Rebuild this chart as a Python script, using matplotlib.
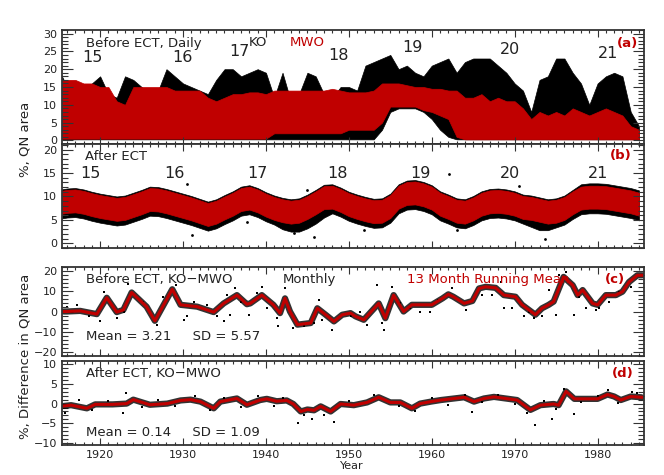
import numpy as np
import matplotlib
matplotlib.use('Agg')
import matplotlib.pyplot as plt
from matplotlib.ticker import MultipleLocator

# ---------------- data ----------------
years = list(range(1915, 1986))

# Panel (a) Before ECT, daily: envelope of the daily clouds (per year)
ko_a_hi = [20, 15, 14, 13, 16, 18, 13, 12, 18, 17, 15, 13, 14, 20, 18, 16, 15, 14, 13, 17,
           20, 20, 18, 19, 20, 19, 12, 19, 11, 13, 19, 18, 13, 12, 15, 15, 14, 21, 22, 23,
           24, 20, 21, 19, 18, 21, 22, 23, 19, 22, 23, 23, 23, 21, 19, 16, 14, 8, 17, 18,
           23, 23, 19, 16, 10, 16, 18, 19, 18, 8, 4]
ko_a_lo = [0.3] * 39 + [3, 8, 9, 9, 9, 8, 6, 3, 1] + [0.3] * 23
mwo_a_hi = [17, 17, 17, 16, 16, 15, 15, 11, 10, 15, 15, 15, 15, 15, 14, 14, 14, 14, 12, 11,
            12, 13, 13, 13.5, 13.5, 13, 14, 14, 14, 14, 14, 14, 14, 14.5, 14, 13.5, 13.5, 13.5,
            14, 16, 16, 16, 15.5, 15, 15, 14.5, 14.5, 14, 14, 12, 12, 13, 11, 12, 11, 11, 9,
            6, 8, 7, 8, 7, 9, 8, 7, 8, 9, 8, 7, 4, 3]
mwo_a_lo = [0.5] * 26 + [2] * 9 + [3, 3, 3, 3, 5, 9.5, 9.5, 9.5, 9.5, 8.5, 8, 7, 6, 1] + [0.3] * 22

# Panel (b) After ECT, daily: envelope of the daily clouds (per year)
mwo_b_hi = [11.1, 11.4, 11.5, 11.2, 10.7, 10.3, 10.0, 9.7, 9.9, 10.5, 11.1, 11.8, 11.7, 11.3,
            10.8, 10.3, 9.8, 9.2, 8.6, 9.1, 10.0, 10.8, 11.8, 12.1, 11.5, 10.6, 9.9, 9.4, 9.1,
            9.3, 10.1, 11.1, 12.2, 12.3, 11.6, 10.7, 10.1, 9.6, 9.2, 9.3, 10.3, 12.3, 13.1, 13.2,
            12.8, 12.1, 10.8, 10.1, 9.3, 9.1, 9.8, 10.8, 11.3, 11.4, 11.2, 10.8, 10.1, 9.9, 9.5,
            9.1, 9.3, 9.9, 11.1, 12.1, 12.3, 12.3, 12.2, 11.9, 11.6, 11.3, 10.8]
mwo_b_lo = [6.2, 6.5, 6.6, 6.3, 5.8, 5.4, 5.1, 4.8, 5.0, 5.6, 6.2, 6.9, 6.8, 6.4, 5.9, 5.4,
            4.9, 4.3, 3.7, 4.2, 5.1, 5.9, 6.9, 7.2, 6.6, 5.7, 5.0, 4.5, 4.2, 4.4, 5.2, 6.2, 7.3,
            7.4, 6.7, 5.8, 5.2, 4.7, 4.3, 4.4, 5.4, 7.4, 8.2, 8.3, 7.9, 7.2, 5.9, 5.2, 4.4, 4.2,
            4.9, 5.9, 6.4, 6.5, 6.3, 5.9, 5.2, 5.0, 4.6, 4.2, 4.4, 5.0, 6.2, 7.2, 7.4, 7.4, 7.3,
            7.0, 6.7, 6.4, 5.9]
ko_b_hi = [11.4, 11.7, 11.8, 11.5, 11.0, 10.6, 10.3, 10.0, 10.2, 10.8, 11.4, 12.1, 12.0, 11.6,
           11.1, 10.6, 10.1, 9.5, 8.9, 9.4, 10.3, 11.1, 12.1, 12.4, 11.8, 10.9, 10.2, 9.7, 9.4,
           9.6, 10.4, 11.4, 12.5, 12.6, 11.9, 11.0, 10.4, 9.9, 9.5, 9.6, 10.6, 12.6, 13.4, 13.5,
           13.1, 12.4, 11.1, 10.4, 9.6, 9.4, 10.1, 11.1, 11.6, 11.7, 11.5, 11.1, 10.4, 10.2, 9.8,
           9.4, 9.6, 10.2, 11.4, 12.6, 12.8, 12.8, 12.7, 12.4, 12.1, 11.8, 11.3]
ko_b_lo = [5.2, 5.5, 5.6, 5.3, 4.8, 4.4, 4.1, 3.8, 4.0, 4.6, 5.2, 5.9, 5.8, 5.4, 4.9, 4.4,
           3.9, 3.3, 2.7, 3.2, 4.1, 4.9, 5.9, 6.2, 5.6, 4.7, 4.0, 3.0, 2.5, 2.5, 3.2, 4.2, 5.5,
           6.4, 5.7, 4.8, 4.2, 3.7, 3.3, 3.4, 4.4, 6.4, 7.2, 7.3, 6.9, 6.2, 4.9, 4.2, 3.4, 3.2,
           3.9, 4.9, 5.4, 5.5, 5.3, 4.9, 4.2, 3.5, 2.8, 2.8, 3.4, 4.0, 5.2, 6.2, 6.4, 6.4, 6.3,
           6.0, 5.7, 5.4, 4.9]
ko_b_out_yr = [1931.1, 1937.7, 1930.5, 1945.0, 1943.4, 1945.8, 1962.1, 1970.5, 1973.7, 1963.1, 1951.8]
ko_b_out_val = [1.7, 4.5, 12.7, 11.3, 2.1, 1.3, 14.8, 12.3, 1.0, 2.8, 2.8]

# Panel (c) Before ECT, KO-MWO: 13-month running mean and monthly points
c_rm_yr = [1915.6, 1916.0, 1917.6, 1919.6, 1920.8, 1922.0, 1922.8, 1923.8, 1925.6, 1926.6,
           1928.7, 1929.7, 1931.7, 1933.7, 1934.9, 1936.5, 1937.7, 1938.1, 1939.5, 1940.9,
           1941.7, 1942.3, 1942.9, 1943.8, 1945.4, 1946.2, 1947.2, 1948.2, 1949.2, 1950.2,
           1950.8, 1951.8, 1953.6, 1954.4, 1955.4, 1956.6, 1957.6, 1959.0, 1960.0, 1961.3,
           1962.0, 1962.6, 1963.9, 1964.9, 1965.7, 1966.5, 1967.7, 1968.7, 1970.1, 1970.9,
           1972.5, 1973.3, 1974.1, 1974.7, 1975.9, 1977.0, 1977.6, 1978.2, 1979.4, 1980.0,
           1981.0, 1982.2, 1983.0, 1983.8, 1984.8, 1985.4]
c_rm_val = [0.0, 0.0, 0.3, -1.3, 6.8, -0.3, 0.8, 9.4, 2.4, -4.6,
            11.0, 3.3, 2.4, -0.3, 4.0, 8.1, 3.6, 4.0, 8.1, 3.3,
            -0.8, 6.5, 0.0, -6.5, -5.7, 1.6, -1.6, -4.9, -1.6, -0.8,
            -2.4, -4.1, 4.0, -3.3, 8.1, 0.0, 3.3, 3.3, 3.3, 6.5,
            8.5, 7.3, 4.0, 5.2, 11.4, 12.2, 11.7, 8.1, 7.3, 3.3,
            -1.6, 1.6, 3.3, 4.9, 17.1, 13.0, 8.1, 10.6, 4.0, 3.3,
            8.1, 8.1, 9.8, 14.6, 17.9, 17.9]
c_pt_yr = [1920.5, 1920.0, 1923.4, 1926.8, 1929.1, 1930.1, 1934.9, 1936.3, 1939.5, 1941.5,
           1942.3, 1943.3, 1946.4, 1948.0, 1953.4, 1954.2, 1955.2, 1971.1, 1973.3, 1974.1,
           1976.2, 1977.2, 1979.8, 1968.7, 1916.0, 1917.2, 1918.6, 1922.0, 1922.9, 1925.2,
           1926.0, 1927.6, 1930.5, 1931.3, 1932.9, 1934.1, 1935.3, 1935.7, 1937.0, 1938.0,
           1938.9, 1940.1, 1941.3, 1944.6, 1945.8, 1946.8, 1949.0, 1950.2, 1951.4, 1952.2,
           1954.0, 1956.2, 1957.4, 1958.6, 1959.8, 1960.7, 1961.9, 1962.5, 1964.1, 1966.1,
           1967.3, 1968.3, 1969.7, 1971.7, 1972.3, 1975.0, 1975.4, 1977.8, 1978.6, 1980.2,
           1981.4, 1982.6, 1984.0]
c_pt_val = [9.4, -4.9, 13.8, -6.5, 13.0, -4.1, -4.9, 11.4, 12.2, -7.3,
            11.4, -8.1, 5.7, -8.9, 13.0, -8.9, 12.2, -2.4, -2.4, 10.6,
            19.5, -1.6, 0.8, 1.6, 2.4, 3.3, -2.4, -3.3, 0.0, 4.9,
            0.0, 7.3, -2.4, 4.9, 3.3, -2.4, 8.1, -1.6, 4.9, -1.6,
            8.9, 1.6, -3.3, -7.3, -5.7, -4.1, -2.4, -2.4, 0.0, -6.5,
            -5.7, 4.0, 1.6, 0.0, 0.0, 5.7, 8.1, 11.4, 0.8, 8.1,
            8.1, 14.6, 1.6, 0.0, -3.3, -1.6, 17.9, 7.3, 1.6, 1.6,
            4.9, 9.8, 12.2]

# Panel (d) After ECT, KO-MWO: 13-month running mean and monthly points
d_rm_yr = [1915.6, 1916.5, 1918.4, 1919.4, 1921.5, 1923.2, 1924.0, 1926.0, 1928.1, 1929.7,
           1930.9, 1932.1, 1933.7, 1934.5, 1936.5, 1937.7, 1939.3, 1940.1, 1941.3, 1942.5,
           1943.3, 1944.2, 1945.0, 1945.8, 1946.6, 1947.8, 1949.0, 1950.6, 1952.2, 1953.6,
           1955.0, 1956.2, 1957.6, 1958.6, 1959.9, 1961.1, 1962.7, 1963.9, 1965.1, 1966.3,
           1967.5, 1968.9, 1970.3, 1971.9, 1973.1, 1974.7, 1975.3, 1976.2, 1977.2, 1978.8,
           1980.0, 1981.2, 1982.0, 1982.8, 1984.0, 1985.3]
d_rm_val = [-0.6, -0.4, -1.2, -0.2, -0.2, 0.0, 1.0, -0.3, 0.0, 0.8,
            1.0, 0.5, -1.2, 0.5, 1.3, -0.3, 0.9, 1.2, 0.6, 0.8,
            -0.1, -2.0, -1.5, -1.7, -0.7, -2.0, -0.1, -0.4, 0.3, 1.6,
            0.3, 0.3, -1.2, 0.0, 0.5, 0.9, 1.3, 1.6, 0.5, 1.3,
            1.7, 1.3, 0.9, -1.6, -0.4, -0.1, -0.4, 3.1, 1.2, 1.2,
            1.2, 2.3, 1.8, 0.9, 1.8, 1.6]
d_pt_yr = [1915.8, 1922.8, 1923.1, 1943.9, 1945.6, 1948.2, 1964.9, 1972.5, 1974.5, 1977.2,
           1981.2, 1984.1, 1917.5, 1919.0, 1921.0, 1925.0, 1927.0, 1929.0, 1931.5, 1933.2,
           1935.0, 1937.0, 1939.0, 1941.0, 1942.0, 1944.6, 1947.0, 1950.0, 1953.0, 1956.0,
           1958.0, 1960.0, 1962.0, 1964.0, 1966.0, 1968.0, 1970.0, 1971.5, 1973.5, 1975.0,
           1976.0, 1978.0, 1980.0, 1982.5, 1984.8]
d_pt_val = [-2.4, -2.5, 2.8, -5.0, -3.8, -4.6, -2.1, -5.5, -4.0, -2.7,
            3.5, 3.0, 0.8, -1.5, 0.6, -0.8, 0.9, -0.6, 1.8, -1.6,
            1.4, -0.9, 1.8, -0.5, 1.5, -2.8, -2.8, 0.6, 2.2, -0.6,
            -1.8, 1.4, -0.3, 2.3, 0.4, 2.1, 0.0, -2.4, 0.7, -1.4,
            3.8, 0.4, 2.0, 0.2, 2.6]

cycle_labels = ['15', '16', '17', '18', '19', '20', '21']

# ---------------- figure ----------------
W, H = 664, 475
RED = '#c00000'
TXT = '#222222'
plt.rcParams['font.family'] = ['DejaVu Sans']
fig = plt.figure(figsize=(W / 100, H / 100), dpi=100)


def ax_at(l, t, r, b):
    return fig.add_axes([l / W, 1 - b / H, (r - l) / W, (b - t) / H])


def style(ax, ylim, ymaj, ymin, xlabels=False):
    ax.set_xlim(1915.4, 1985.6)
    ax.set_ylim(*ylim)
    ax.xaxis.set_major_locator(MultipleLocator(10))
    ax.xaxis.set_minor_locator(MultipleLocator(1))
    ax.yaxis.set_major_locator(MultipleLocator(ymaj))
    ax.yaxis.set_minor_locator(MultipleLocator(ymin))
    ax.tick_params(axis='both', which='both', direction='in', top=True, right=True,
                   labelsize=8, labelcolor=TXT, color='#333333', width=0.8)
    ax.tick_params(axis='y', which='major', length=8)
    ax.tick_params(axis='y', which='minor', length=4)
    ax.tick_params(axis='x', which='major', length=5)
    ax.tick_params(axis='x', which='minor', length=2)
    if not xlabels:
        ax.tick_params(axis='x', labelbottom=False)
    for s in ax.spines.values():
        s.set_linewidth(1.3)
        s.set_color('#333333')


def ftext(x, y, s, **kw):
    kw.setdefault('color', TXT)
    kw.setdefault('fontsize', 9.5)
    fig.text(x / W, 1 - y / H, s, va='center', **kw)


# (a)
axa = ax_at(62, 30, 644, 144)
axa.fill_between(years, ko_a_lo, ko_a_hi, color='black', lw=0.5)
axa.fill_between(years, mwo_a_lo, mwo_a_hi, color=RED, lw=0.5)
style(axa, (-1, 31), 5, 1)

# (b)
axb = ax_at(62, 144, 644, 248)
axb.fill_between(years, ko_b_lo, ko_b_hi, color='black', lw=0.5)
axb.fill_between(years, mwo_b_lo, mwo_b_hi, color=RED, lw=0.5)
axb.scatter(ko_b_out_yr, ko_b_out_val, s=4, color='black', lw=0)
style(axb, (-1, 21.2), 5, 1)

# (c)
axc = ax_at(62, 267, 644, 356)
axc.plot(c_rm_yr, c_rm_val, color='black', lw=4.5, alpha=0.8, solid_capstyle='round')
axc.scatter(c_pt_yr, c_pt_val, s=4, color='black', marker='s', lw=0)
axc.plot(c_rm_yr, c_rm_val, color=RED, lw=2.2)
style(axc, (-22, 22), 10, 2)

# (d)
axd = ax_at(62, 361, 644, 445)
axd.plot(d_rm_yr, d_rm_val, color='black', lw=4.5, alpha=0.8, solid_capstyle='round')
axd.scatter(d_pt_yr, d_pt_val, s=4, color='black', marker='s', lw=0)
axd.plot(d_rm_yr, d_rm_val, color=RED, lw=2.2)
style(axd, (-10.5, 10.8), 5, 1, xlabels=True)

# ---------------- texts ----------------
ftext(86, 43, 'Before ECT, Daily')
ftext(249, 43, 'KO')
ftext(290, 43, 'MWO', color=RED)
ftext(617, 43, '(a)', color=RED, fontweight='bold')

cyc_a_x = [82, 172, 229, 328, 402, 500, 598]
cyc_a_y = [57, 57, 52, 55, 48, 50, 53]
for s, x, y in zip(cycle_labels, cyc_a_x, cyc_a_y):
    ftext(x, y, s, fontsize=11.5)

ftext(85, 156, 'After ECT')
ftext(610, 156, '(b)', color=RED, fontweight='bold')
cyc_b_x = [80, 164, 247, 327, 410, 500, 588]
for s, x in zip(cycle_labels, cyc_b_x):
    ftext(x, 173, s, fontsize=11.5)

ftext(86, 279, 'Before ECT, KO\u2212MWO')
ftext(283, 279, 'Monthly')
ftext(407, 279, '13 Month Running Mean', color=RED)
ftext(605, 279, '(c)', color=RED, fontweight='bold')
ftext(86, 337, 'Mean = 3.21     SD = 5.57')

ftext(86, 373, 'After ECT, KO\u2212MWO')
ftext(612, 373, '(d)', color=RED, fontweight='bold')
ftext(86, 432, 'Mean = 0.14     SD = 1.09')

fig.text(25 / W, 1 - 139 / H, '%, QN area', rotation=90, ha='center', va='center',
         fontsize=9.5, color=TXT)
fig.text(25 / W, 1 - 356 / H, '%, Difference in QN area', rotation=90, ha='center',
         va='center', fontsize=9.5, color=TXT)
fig.text(352 / W, 1 - 466 / H, 'Year', ha='center', va='center', fontsize=8, color=TXT)

fig.savefig('out.png', dpi=100)
